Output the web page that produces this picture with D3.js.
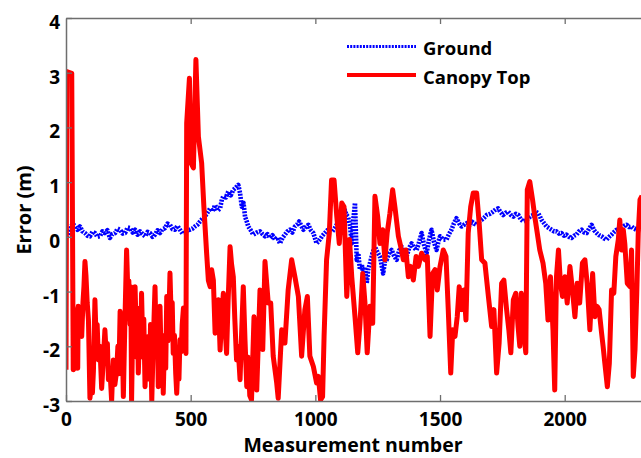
<!DOCTYPE html>
<html>
<head>
<meta charset="utf-8">
<script src="https://cdn.jsdelivr.net/npm/d3@7/dist/d3.min.js"></script>
<style>
  html, body { margin: 0; padding: 0; background: #fff; }
  svg { display: block; }
  text { font-family: "Open Sans", "Lato", sans-serif; font-weight: bold; fill: #000; }
</style>
</head>
<body>
<svg id="chart" width="641" height="458"></svg>
<script>
// Measurement index and error (m) for the canopy-top surface
const canopyIdx = [0,3,23,29,36,40,43,47,49,54,58,63,68,72,76,80,85,90,96,102,106,110,116,121,125,130,136,143,149,156,162,166,170,176,183,187,190,196,203,208,212,217,222,226,230,236,243,248,252,257,260,263,268,272,277,282,286,290,295,299,303,308,312,317,322,326,330,335,339,344,349,353,357,362,366,370,374,377,382,386,390,395,400,404,409,413,417,422,426,430,435,440,444,449,453,457,462,466,471,476,481,484,495,501,511,521,531,544,553,564,571,578,584,591,598,604,611,618,624,631,637,644,650,658,664,671,677,684,690,698,704,711,718,725,731,737,744,754,765,778,789,798,811,821,831,845,851,865,878,891,905,918,932,945,958,968,978,992,1005,1012,1021,1029,1035,1045,1056,1065,1075,1086,1096,1106,1115,1126,1137,1146,1159,1170,1179,1190,1199,1208,1219,1230,1239,1250,1259,1270,1279,1288,1299,1310,1319,1333,1342,1353,1363,1373,1382,1393,1404,1413,1426,1440,1449,1460,1470,1480,1489,1500,1513,1524,1533,1543,1551,1560,1569,1577,1586,1596,1604,1613,1623,1633,1647,1657,1667,1680,1694,1707,1716,1727,1737,1747,1756,1767,1776,1784,1794,1804,1813,1820,1826,1836,1844,1850,1860,1871,1880,1890,1900,1913,1924,1933,1943,1953,1960,1967,1975,1983,1991,2001,2010,2021,2031,2041,2050,2060,2071,2081,2090,2101,2112,2121,2130,2138,2148,2154,2161,2171,2179,2188,2197,2205,2215,2221,2228,2235,2241,2251,2262,2268,2275,2282,2289,2295,2302,2310];
const canopyErr = [-2.43,3.02,2.99,-2.43,-1.33,-2.40,-1.90,-2.40,-1.27,-1.60,-1.30,-1.82,-1.20,-0.90,-0.45,-0.70,-1.20,-1.52,-2.95,-2.70,-2.85,-2.45,-1.15,-1.90,-1.60,-2.25,-2.00,-2.77,-2.30,-1.70,-2.20,-1.95,-2.61,-2.40,-3.00,-2.50,-2.25,-2.70,-2.45,-2.00,-2.50,-1.36,-2.20,-1.90,-2.92,-1.60,-0.24,-1.00,-0.80,-1.60,-0.91,-3.00,-1.50,-2.20,-0.91,-1.80,-1.30,-2.49,-1.70,-2.20,-1.03,-2.00,-1.50,-2.74,-2.00,-2.40,-1.82,-2.60,-1.60,-3.00,-2.10,-1.50,-0.91,-2.00,-1.50,-2.74,-2.00,-1.27,-2.30,-1.80,-2.86,-1.90,-2.40,-1.09,-1.90,-1.40,-0.66,-1.50,-1.20,-2.13,-1.80,-2.50,-2.86,-2.30,-2.60,-1.88,-2.10,-1.60,-1.30,-1.80,-2.13,2.08,2.90,1.35,1.26,3.24,1.83,1.35,0.55,-0.30,-0.80,-0.91,-0.60,-0.79,-1.76,-1.30,-1.15,-2.07,-1.50,-1.03,-1.60,-2.13,-1.20,-0.18,-0.50,-0.73,-1.50,-2.25,-2.00,-2.61,-1.80,-0.91,-1.90,-2.74,-2.20,-2.90,-2.98,-1.46,-2.80,-0.97,-2.06,-0.45,-1.21,-1.21,-2.18,-2.67,-2.95,-1.70,-1.94,-0.97,-0.42,-0.73,-1.09,-2.18,-1.33,-1.09,-2.18,-2.37,-2.67,-2.55,-2.98,-2.92,-1.82,-0.42,0.07,1.04,1.04,0.37,-0.12,0.62,0.55,-1.09,-0.05,-0.73,-1.46,-2.12,-1.58,-0.67,-1.21,-2.12,-1.27,-1.58,0.74,0.37,-0.12,0.13,-0.42,0.07,0.43,0.86,0.55,0.01,-0.17,-0.42,-0.24,-0.73,-0.54,-0.79,-0.36,-0.54,-0.30,-0.42,-0.36,-1.82,-0.67,-0.60,-0.97,-0.54,-0.24,-0.36,-1.33,-2.49,-1.70,-1.82,-1.46,-0.91,-1.33,-0.97,-1.52,0.07,0.55,0.80,0.80,0.25,-0.42,-0.48,-1.09,-1.64,-1.33,-2.49,-1.94,-0.85,-0.79,-1.33,-1.70,-2.12,-1.15,-1.03,-1.64,-2.00,-1.03,-1.76,-2.12,0.86,1.01,0.68,0.37,0.07,-0.24,-0.48,-0.85,-1.52,-0.73,-1.70,-2.80,-0.73,-0.24,-0.85,-1.09,-0.73,-1.21,-0.54,-0.97,-1.46,-0.85,-1.21,-0.48,-0.42,-0.85,-1.70,-0.67,-1.46,-1.27,-1.33,-1.76,-2.00,-2.31,-2.74,-2.31,-0.97,-1.03,-0.36,-0.05,0.31,-0.24,0.13,-0.12,-0.85,-0.91,-0.24,-2.55,-2.06,-1.03,0.07,0.68,0.75];

// Measurement index and error (m) for the ground surface
const groundIdx = [0,5,16,26,36,46,56,66,76,86,96,106,116,126,136,146,156,166,176,186,197,207,217,227,237,247,257,267,277,287,297,307,317,327,337,347,357,367,377,387,397,407,417,427,437,447,457,467,477,487,497,507,517,527,537,547,557,567,578,588,598,608,618,625,631,641,651,661,671,681,691,698,705,712,718,725,731,741,751,765,778,788,798,808,818,828,838,848,858,868,878,888,898,908,918,926,935,944,952,962,972,982,992,1005,1018,1028,1038,1048,1058,1068,1078,1088,1098,1108,1118,1125,1131,1139,1146,1152,1159,1166,1172,1179,1186,1192,1199,1206,1212,1219,1229,1239,1249,1259,1265,1272,1279,1286,1296,1306,1316,1326,1336,1346,1356,1366,1376,1386,1396,1406,1416,1426,1436,1446,1456,1466,1476,1486,1493,1500,1513,1526,1536,1546,1556,1566,1576,1586,1596,1607,1617,1627,1637,1647,1657,1667,1677,1687,1700,1713,1723,1733,1743,1753,1763,1773,1784,1794,1804,1814,1824,1834,1844,1854,1864,1874,1884,1894,1900,1907,1917,1927,1937,1947,1957,1967,1977,1987,1997,2007,2017,2027,2037,2047,2057,2068,2078,2088,2098,2108,2118,2128,2138,2148,2158,2168,2178,2188,2198,2208,2218,2228,2238,2248,2258,2268,2278,2288,2295,2302,2310];
const groundErr = [0.00,0.01,0.12,0.24,0.20,0.13,0.19,0.10,0.07,0.02,0.01,0.09,0.07,0.00,0.01,0.10,0.07,0.12,-0.02,0.05,0.07,0.15,0.13,0.06,0.07,0.17,0.16,0.08,0.13,0.04,0.10,0.05,0.01,0.09,0.07,0.00,0.04,0.12,0.07,0.14,0.16,0.24,0.22,0.14,0.13,0.20,0.13,0.06,0.07,0.12,0.13,0.15,0.19,0.22,0.28,0.33,0.37,0.44,0.52,0.47,0.58,0.48,0.52,0.68,0.74,0.72,0.83,0.76,0.86,0.90,0.95,0.80,0.55,0.62,0.37,0.28,0.19,0.12,0.04,0.08,0.10,0.05,0.01,0.05,-0.02,0.03,-0.05,-0.01,-0.12,-0.02,0.04,0.10,0.13,0.08,0.19,0.22,0.28,0.20,0.13,0.18,0.22,0.12,0.07,-0.12,-0.05,0.02,0.07,0.12,0.13,0.10,0.16,0.24,0.19,0.30,0.49,0.40,0.37,0.20,-0.12,0.30,0.62,-0.42,-0.30,-0.60,-0.50,-0.67,-0.55,-0.85,-0.60,-0.48,-0.30,-0.18,-0.28,-0.36,-0.50,-0.67,-0.45,-0.42,-0.30,-0.24,-0.35,-0.42,-0.25,-0.18,-0.30,-0.36,-0.20,-0.12,-0.20,-0.24,-0.10,0.07,-0.15,-0.30,-0.05,0.13,-0.10,-0.24,-0.10,0.01,-0.05,-0.05,0.05,0.13,0.25,0.34,0.25,0.19,0.22,0.25,0.20,0.28,0.24,0.22,0.28,0.31,0.35,0.40,0.42,0.46,0.50,0.52,0.45,0.40,0.44,0.46,0.40,0.37,0.42,0.40,0.32,0.28,0.30,0.34,0.38,0.40,0.46,0.43,0.38,0.31,0.25,0.19,0.16,0.13,0.10,0.10,0.06,0.07,0.02,0.04,0.00,-0.02,0.02,0.04,0.10,0.13,0.08,0.07,0.15,0.22,0.12,0.07,0.03,0.01,-0.03,-0.05,0.00,0.04,0.09,0.13,0.12,0.16,0.20,0.22,0.18,0.19,0.15,0.13,0.18,0.16,0.14];

const xTicks = [0, 500, 1000, 1500, 2000];
const yTicks = [-3, -2, -1, 0, 1, 2, 3, 4];
const yTickLabels = ["-3", "-2", "-1", "0", "1", "2", "3", "4"];

const seriesNames = ["Ground", "Canopy Top"];
const seriesColors = ["#0000ff", "#ff0000"];

const svg = d3.select("#chart");
const plotLeft = 66, plotTop = 18, plotBottom = 401, plotRight = 642;

const x = d3.scaleLinear().domain([0, 2310]).range([plotLeft, plotRight]);
const y = d3.scaleLinear().domain([-3, 4]).range([plotBottom, plotTop]);

svg.append("defs").append("clipPath").attr("id", "plotClip")
  .append("rect")
  .attr("x", plotLeft).attr("y", plotTop)
  .attr("width", plotRight - plotLeft).attr("height", plotBottom - plotTop);

const line = d3.line().x(d => x(d[0])).y(d => y(d[1]));

const plot = svg.append("g").attr("clip-path", "url(#plotClip)");

const ground = groundIdx.map((m, i) => [m, groundErr[i]]);
const canopy = canopyIdx.map((m, i) => [m, canopyErr[i]]);

plot.append("path").datum(ground)
  .attr("d", line)
  .attr("fill", "none")
  .attr("stroke", seriesColors[0])
  .attr("stroke-width", 4.6)
  .attr("stroke-dasharray", "2,1.2")
  .attr("stroke-linejoin", "round");

plot.append("path").datum(canopy)
  .attr("d", line)
  .attr("fill", "none")
  .attr("stroke", seriesColors[1])
  .attr("stroke-width", 5)
  .attr("stroke-linejoin", "round");

// axes with inward ticks
const axisColor = "#6e6e6e";
const fontSize = 19;

const gx = svg.append("g").attr("transform", `translate(0,${plotBottom})`)
  .call(d3.axisBottom(x).tickValues(xTicks).tickSize(-6).tickSizeOuter(0).tickPadding(11)
    .tickFormat(d3.format("d")));
const gxTop = svg.append("g").attr("transform", `translate(0,${plotTop})`)
  .call(d3.axisTop(x).tickValues(xTicks.filter(v => v > 0)).tickSize(-6).tickSizeOuter(0).tickFormat(""));
const gy = svg.append("g").attr("transform", `translate(${plotLeft},0)`)
  .call(d3.axisLeft(y).tickValues(yTicks).tickSize(-6).tickSizeOuter(0).tickPadding(6)
    .tickFormat((d, i) => yTickLabels[i]));

[gx, gxTop, gy].forEach(g => {
  g.selectAll("path.domain").attr("stroke", axisColor).attr("stroke-width", 1.5);
  g.selectAll(".tick line").attr("stroke", axisColor).attr("stroke-width", 1.3);
  g.selectAll(".tick text")
    .style("font-family", "'Open Sans', sans-serif")
    .style("font-weight", "bold")
    .style("font-size", fontSize + "px")
    .attr("fill", "#000");
});
gy.selectAll(".tick text").attr("dy", "0.55em");
gx.selectAll(".tick text").attr("dy", "0.72em");

// axis titles
svg.append("text")
  .attr("x", 353).attr("y", 452.2)
  .attr("text-anchor", "middle")
  .style("font-size", "19.5px")
  .text("Measurement number");

svg.append("text")
  .attr("transform", `translate(31,210) rotate(-90)`)
  .attr("text-anchor", "middle")
  .style("font-size", "20px")
  .text("Error (m)");

// legend
const legend = svg.append("g");
const legendRows = [46.5, 75];
seriesNames.forEach((name, i) => {
  const ly = legendRows[i];
  legend.append("line")
    .attr("x1", 347).attr("x2", 416).attr("y1", ly).attr("y2", ly)
    .attr("stroke", seriesColors[i])
    .attr("stroke-width", i === 0 ? 3.2 : 3.8)
    .attr("stroke-dasharray", i === 0 ? "2,1.2" : null);
  legend.append("text")
    .attr("x", 423).attr("y", ly + 8.5)
    .style("font-size", "18.5px")
    .text(name);
});
</script>
</body>
</html>
